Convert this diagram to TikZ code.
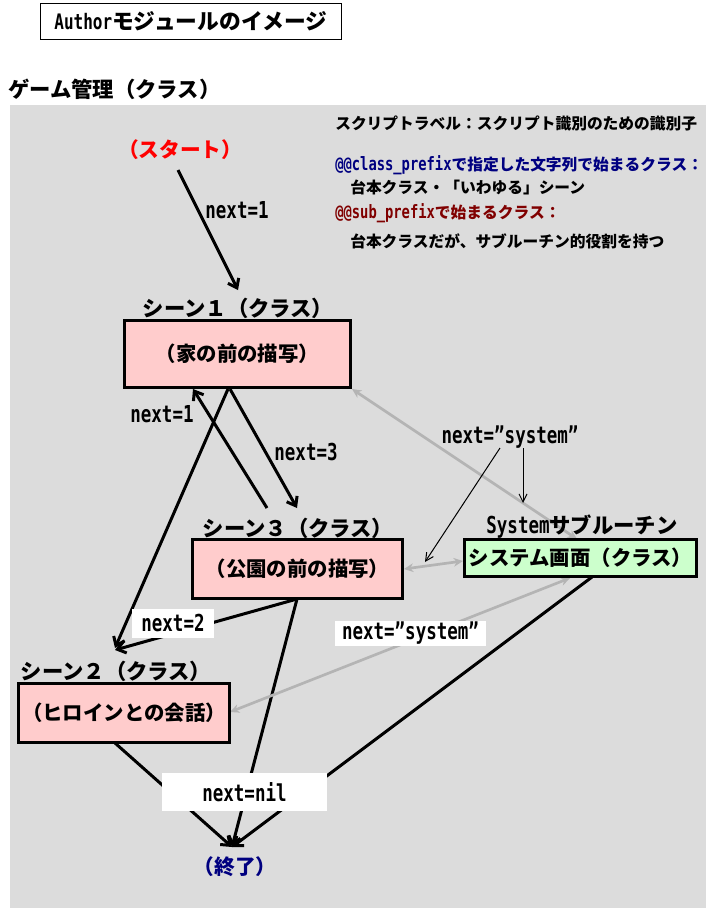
\documentclass[tikz,border=0pt]{standalone}
\usepackage{fontspec}
\setmainfont{Noto Sans CJK JP}
\newfontfamily\monof[FakeStretch=0.75]{DejaVu Sans Mono}
\usetikzlibrary{arrows.meta}
\definecolor{bggray}{HTML}{DCDCDC}
\definecolor{pinkbox}{HTML}{FFCCCC}
\definecolor{greenbox}{HTML}{CCFFCC}
\definecolor{grayline}{HTML}{B4B4B4}
\definecolor{navyt}{HTML}{000080}
\definecolor{darkredt}{HTML}{800000}
\pgfdeclarelayer{bg}\pgfdeclarelayer{lines}\pgfsetlayers{bg,lines,main}
\newcommand{\notemono}{\monof\bfseries\fontsize{13.8pt}{15pt}\selectfont}
\newcommand{\labmono}{\monof\bfseries\fontsize{17.5pt}{19pt}\selectfont}
\newcommand{\titlemono}{\monof\bfseries\fontsize{16pt}{18pt}\selectfont}
\begin{document}
\begin{tikzpicture}[x=0.75pt,y=-0.75pt,
  titlebox/.style={draw=black,line width=1pt,fill=white,inner sep=0pt,font=\bfseries\fontsize{16.3pt}{18pt}\selectfont},
  note/.style={inner sep=0pt,anchor=west,font=\bfseries\fontsize{11.8pt}{14pt}\selectfont},
  scenebox/.style={draw=black,line width=2.25pt,fill=pinkbox,inner sep=0pt,font=\bfseries\fontsize{15.3pt}{17pt}\selectfont},
  sysbox/.style={draw=black,line width=2.25pt,fill=greenbox,inner sep=0pt,font=\bfseries\fontsize{15.3pt}{17pt}\selectfont},
  scenelabel/.style={inner sep=0pt,font=\bfseries\fontsize{16pt}{18pt}\selectfont},
  startlbl/.style={inner sep=0pt,text=red,font=\bfseries\fontsize{15.5pt}{17pt}\selectfont},
  endlbl/.style={inner sep=0pt,text=navyt,font=\bfseries\fontsize{15.5pt}{17pt}\selectfont},
  lab/.style={inner sep=0pt,font=\labmono},
  wlab/.style={lab,fill=white},
  blk/.style={line width=2.25pt,-{Straight Barb[length=6pt,width=9pt]}},
  gry/.style={draw=grayline,line width=2pt,{Stealth[length=7pt,width=6.5pt]}-{Stealth[length=7pt,width=6.5pt]}},
  thn/.style={line width=0.75pt,-{Straight Barb[length=6pt,width=6pt]}}
]
\useasboundingbox (0,0) rectangle (716,910);
\begin{pgfonlayer}{bg}
  \fill[bggray] (10,105) rectangle (706,908);
\end{pgfonlayer}

% title and heading
\node[titlebox,minimum width=225.75pt,minimum height=27pt] (title) at (191,21.5) {{\titlemono Author}モジュールのイメージ};
\node[anchor=west,inner sep=0pt,font=\bfseries\fontsize{16pt}{18pt}\selectfont] (hdr) at (8,89) {ゲーム管理（クラス）};

% notes
\node[note] (n1) at (335,123) {スクリプトラベル：スクリプト識別のための識別子};
\node[note,text=navyt] (n2) at (335,165) {{\notemono @@class\_prefix}で指定した文字列で始まるクラス：};
\node[note] (n3) at (350,187) {台本クラス・「いわゆる」シーン};
\node[note,text=darkredt] (n4) at (335,213) {{\notemono @@sub\_prefix}で始まるクラス：};
\node[note] (n5) at (350,241) {台本クラスだが、サブルーチン的役割を持つ};

% scenes
\node[scenebox,minimum width=169.5pt,minimum height=50.25pt] (s1) at (237.5,354) {（家の前の描写）};
\node[scenelabel] (l1) at (238,308) {シーン１（クラス）};
\node[scenebox,minimum width=157.5pt,minimum height=44.25pt] (s3) at (297.5,569) {（公園の前の描写）};
\node[scenelabel] (l3) at (298,528) {シーン３（クラス）};
\node[scenebox,minimum width=158.25pt,minimum height=44.25pt] (s2) at (124,713) {（ヒロインとの会話）};
\node[scenelabel] (l2) at (116,671) {シーン２（クラス）};
\node[sysbox,minimum width=174pt,minimum height=27.75pt] (sys) at (580.5,558) {システム画面（クラス）};
\node[scenelabel] (lsys) at (582,527) {{\labmono System}サブルーチン};
\node[startlbl] (st) at (180,150) {（スタート）};
\node[endlbl] (en) at (235,867) {（終了）};

% plain labels
\node[lab] (nx1) at (237,210) {next=1};
\node[lab] (nx1b) at (162,414) {next=1};
\node[lab] (nx3) at (306,452) {next=3};
\node[lab] (nxs) at (510,437) {next=”system”};
\coordinate (c1) at (523,503);
\coordinate (c2) at (425,562);

\begin{pgfonlayer}{lines}
  \draw[blk] ([shift={(-2,20)}]st.center) -- ([shift={(0.5,-64)}]s1.center);
  \draw[blk] ([shift={(-7.5,35)}]s1.center) -- ([shift={(-0.5,-61)}]s3.center);
  \draw[blk] ([shift={(-30.5,-61)}]s3.center) -- ([shift={(-44.5,35)}]s1.center);
  \draw[blk] ([shift={(-9.5,35)}]s1.center) -- ([shift={(-9,-65)}]s2.center);
  \draw[blk] ([shift={(-0.5,30)}]s3.center) -- ([shift={(-9,-63)}]s2.center);
  \draw[blk] ([shift={(-0.5,30)}]s3.center) -- ([shift={(-3,-20)}]en.center);
  \draw[blk] ([shift={(-9,30)}]s2.center) -- ([shift={(-3,-20)}]en.center);
  \draw[blk] ([shift={(11.5,19)}]sys.center) -- ([shift={(-3,-20)}]en.center);
  \draw[gry] ([shift={(-3.5,-19)}]sys.center) -- ([shift={(114.5,35)}]s1.center);
  \draw[gry] ([shift={(106.5,0)}]s3.center) -- ([shift={(-117.5,3)}]sys.center);
  \draw[gry] ([shift={(-10.5,20)}]sys.center) -- ([shift={(106,-1)}]s2.center);
  \draw[thn] ([shift={(13,11)}]nxs.center) -- (c1);
  \draw[thn] ([shift={(-10,11)}]nxs.center) -- (c2);
\end{pgfonlayer}

% white labels over lines
\node[wlab,minimum width=61.5pt,minimum height=21.75pt] (nx2) at (173,623) {next=2};
\node[wlab,minimum width=113.25pt,minimum height=18.75pt] (nxs2) at (410.5,633.5) {next=”system”};
\node[wlab,minimum width=123.75pt,minimum height=28.5pt] (nxn) at (244.5,792) {next=nil};
\end{tikzpicture}
\end{document}
